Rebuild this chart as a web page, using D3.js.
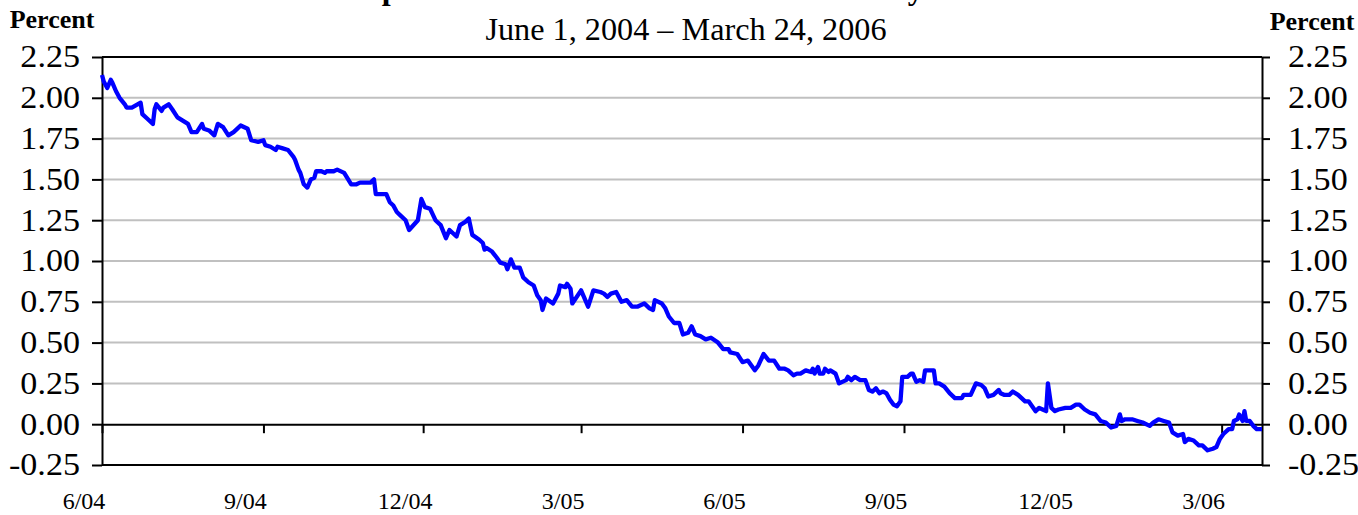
<!DOCTYPE html>
<html>
<head>
<meta charset="utf-8">
<script src="https://cdnjs.cloudflare.com/ajax/libs/d3/7.8.5/d3.min.js"></script>
<style>
  body { margin: 0; background: #fff; }
  text { font-family: "Liberation Serif", "Times New Roman", serif; fill: #000; }
  .grid line { stroke: #c0c0c0; stroke-width: 2; }
  .axis path, .axis line { stroke: #000; stroke-width: 2; }
</style>
</head>
<body>
<div id="chart"></div>
<script>
// spread, percent; days counted from June 1, 2004
var startDate = new Date(2004, 5, 1);
var endDate = new Date(2006, 2, 24);

var dayOffsets = [0,1,3,5,6,8,10,13,14,17,22,23,26,29,30,31,34,35,38,40,43,46,49,51,54,57,58,61,64,66,69,72,75,77,79,83,85,89,92,93,96,99,100,103,106,109,110,112,113,115,117,119,121,122,125,127,128,132,134,138,142,145,147,153,155,156,162,164,166,168,170,173,175,180,182,184,187,190,193,196,198,202,204,207,209,211,215,217,218,219,222,225,227,230,231,233,235,238,240,243,246,248,250,251,253,257,260,261,264,265,267,268,273,277,280,284,286,288,290,293,296,299,302,305,309,312,314,315,319,321,323,326,329,331,334,336,338,341,344,347,351,354,357,358,362,365,368,372,374,377,380,383,386,389,391,394,396,398,401,404,405,406,408,409,411,412,414,415,418,420,424,425,427,429,432,435,437,439,441,443,445,447,449,451,453,455,456,459,461,462,464,466,468,469,474,475,477,480,483,486,490,491,495,498,501,503,505,508,511,512,514,517,519,522,524,526,528,530,532,534,536,538,539,541,543,545,549,552,555,557,560,563,566,569,572,575,578,580,581,583,587,590,593,597,599,602,605,608,610,613,616,617,619,622,625,627,630,633,635,637,639,642,644,645,647,648,650,651,652,654,656,658,661];

var spread = [2.14,2.10,2.06,2.11,2.09,2.04,2.00,1.96,1.94,1.94,1.97,1.90,1.87,1.84,1.93,1.96,1.92,1.94,1.96,1.93,1.88,1.86,1.84,1.79,1.79,1.84,1.81,1.80,1.77,1.84,1.82,1.77,1.79,1.81,1.83,1.81,1.74,1.73,1.74,1.71,1.70,1.68,1.70,1.69,1.68,1.64,1.62,1.56,1.54,1.47,1.45,1.50,1.51,1.55,1.55,1.54,1.55,1.55,1.56,1.54,1.47,1.47,1.48,1.48,1.50,1.41,1.41,1.36,1.34,1.30,1.28,1.25,1.19,1.25,1.38,1.33,1.32,1.25,1.22,1.14,1.19,1.15,1.22,1.24,1.26,1.16,1.13,1.11,1.07,1.08,1.06,1.02,0.99,0.98,0.95,1.01,0.96,0.96,0.90,0.87,0.85,0.79,0.76,0.70,0.77,0.74,0.80,0.85,0.84,0.86,0.83,0.74,0.82,0.72,0.82,0.81,0.80,0.78,0.80,0.81,0.75,0.76,0.72,0.72,0.74,0.71,0.70,0.76,0.74,0.71,0.66,0.62,0.62,0.55,0.56,0.60,0.55,0.54,0.52,0.53,0.50,0.46,0.46,0.44,0.43,0.38,0.39,0.33,0.36,0.43,0.39,0.39,0.34,0.34,0.33,0.30,0.31,0.31,0.33,0.32,0.34,0.31,0.35,0.31,0.31,0.34,0.32,0.33,0.31,0.25,0.27,0.29,0.27,0.29,0.27,0.27,0.21,0.20,0.22,0.19,0.20,0.19,0.15,0.12,0.11,0.14,0.29,0.29,0.31,0.31,0.26,0.27,0.26,0.33,0.33,0.25,0.25,0.23,0.19,0.16,0.16,0.18,0.18,0.25,0.24,0.22,0.17,0.18,0.21,0.19,0.18,0.18,0.20,0.18,0.16,0.14,0.14,0.11,0.08,0.10,0.09,0.08,0.25,0.10,0.08,0.09,0.10,0.10,0.12,0.12,0.09,0.07,0.06,0.02,0.01,-0.02,-0.01,0.06,0.02,0.03,0.03,0.02,0.01,-0.01,0.01,0.03,0.02,0.01,-0.05,-0.07,-0.06,-0.11,-0.09,-0.10,-0.13,-0.13,-0.16,-0.15,-0.14,-0.09,-0.06,-0.03,-0.03,0.02,0.03,0.06,0.02,0.08,0.02,0.02,-0.01,-0.03,-0.03];

var xTickDates = ["2004-06-01","2004-09-01","2004-12-01","2005-03-01","2005-06-01","2005-09-01","2005-12-01","2006-03-01"];
var xTickLabels = ["6/04","9/04","12/04","3/05","6/05","9/05","12/05","3/06"];
var yTicks = [-0.25,0,0.25,0.5,0.75,1,1.25,1.5,1.75,2,2.25];

var width = 1358, height = 515;
var svg = d3.select('#chart').append('svg')
  .attr('width', width).attr('height', height);

var x = d3.scaleTime().domain([startDate, endDate]).range([102, 1262]);
var y = d3.scaleLinear().domain([-0.25, 2.25]).range([465, 57]);

var data = dayOffsets.map(function(d, i) {
  return {date: d3.timeDay.offset(startDate, d), value: spread[i]};
});
var parse = d3.timeParse('%Y-%m-%d');
var tickDates = xTickDates.map(parse);
var fmt = function(d) { return d.toFixed(2); };

// widen glyphs a bit, the original type is stretched sideways
function stretch(sel, k) {
  sel.each(function() {
    var w = this.getComputedTextLength();
    d3.select(this).attr('textLength', w * k).attr('lengthAdjust', 'spacingAndGlyphs');
  });
}

// gridlines
svg.append('g').attr('class', 'grid')
  .selectAll('line').data(yTicks.filter(function(d) { return d > 0 && d < 2.25; }))
  .enter().append('line')
  .attr('x1', x.range()[0]).attr('x2', x.range()[1])
  .attr('y1', function(d) { return y(d); }).attr('y2', function(d) { return y(d); });

// frame top and bottom
svg.append('g').attr('class', 'axis')
  .selectAll('line').data([2.25, -0.25]).enter().append('line')
  .attr('x1', x.range()[0]).attr('x2', x.range()[1])
  .attr('y1', function(d) { return y(d); }).attr('y2', function(d) { return y(d); });

// zero line with date ticks
svg.append('g').attr('class', 'axis')
  .attr('transform', 'translate(0,' + y(0) + ')')
  .call(d3.axisBottom(x).tickValues(tickDates).tickSize(9).tickSizeOuter(0).tickFormat(''));

// date labels at bottom, they sit a little left of their ticks
svg.append('g').selectAll('text').data(tickDates).enter().append('text')
  .attr('x', function(d) { return x(d) - 18; })
  .attr('y', 509)
  .attr('text-anchor', 'middle')
  .style('font-size', '24px')
  .text(function(d, i) { return xTickLabels[i]; });

// y axes
svg.append('g').attr('class', 'axis')
  .attr('transform', 'translate(' + x.range()[0] + ',0)')
  .call(d3.axisLeft(y).tickValues(yTicks).tickFormat(fmt).tickSize(10).tickSizeOuter(0).tickPadding(12));
svg.append('g').attr('class', 'axis')
  .attr('transform', 'translate(' + x.range()[1] + ',0)')
  .call(d3.axisRight(y).tickValues(yTicks).tickFormat(fmt).tickSize(8).tickSizeOuter(0).tickPadding(18));
var yLabels = svg.selectAll('.axis .tick text')
  .style('font-size', '31px')
  .style('font-family', '"Liberation Serif", "Times New Roman", serif');
stretch(yLabels, 1.1);

// line
svg.append('path').datum(data)
  .attr('fill', 'none')
  .attr('stroke', '#0000ff')
  .attr('stroke-width', 4.3)
  .attr('stroke-linejoin', 'round')
  .attr('d', d3.line().x(function(d) { return x(d.date); }).y(function(d) { return y(d.value); }));

// titles
svg.append('text').attr('x', 686).attr('y', -1).attr('text-anchor', 'middle')
  .style('font-size', '32px').style('font-weight', 'bold')
  .text('Spread Between 2- and 10-Year Treasury Notes');
var sub = svg.append('text').attr('x', 686).attr('y', 40).attr('text-anchor', 'middle')
  .style('font-size', '31px')
  .text('June 1, 2004 \u2013 March 24, 2006');
stretch(sub, 1.04);
svg.append('text').attr('x', 52).attr('y', 28).attr('text-anchor', 'middle')
  .style('font-size', '26px').style('font-weight', 'bold').text('Percent');
svg.append('text').attr('x', 1312).attr('y', 30).attr('text-anchor', 'middle')
  .style('font-size', '26px').style('font-weight', 'bold').text('Percent');
</script>
</body>
</html>
